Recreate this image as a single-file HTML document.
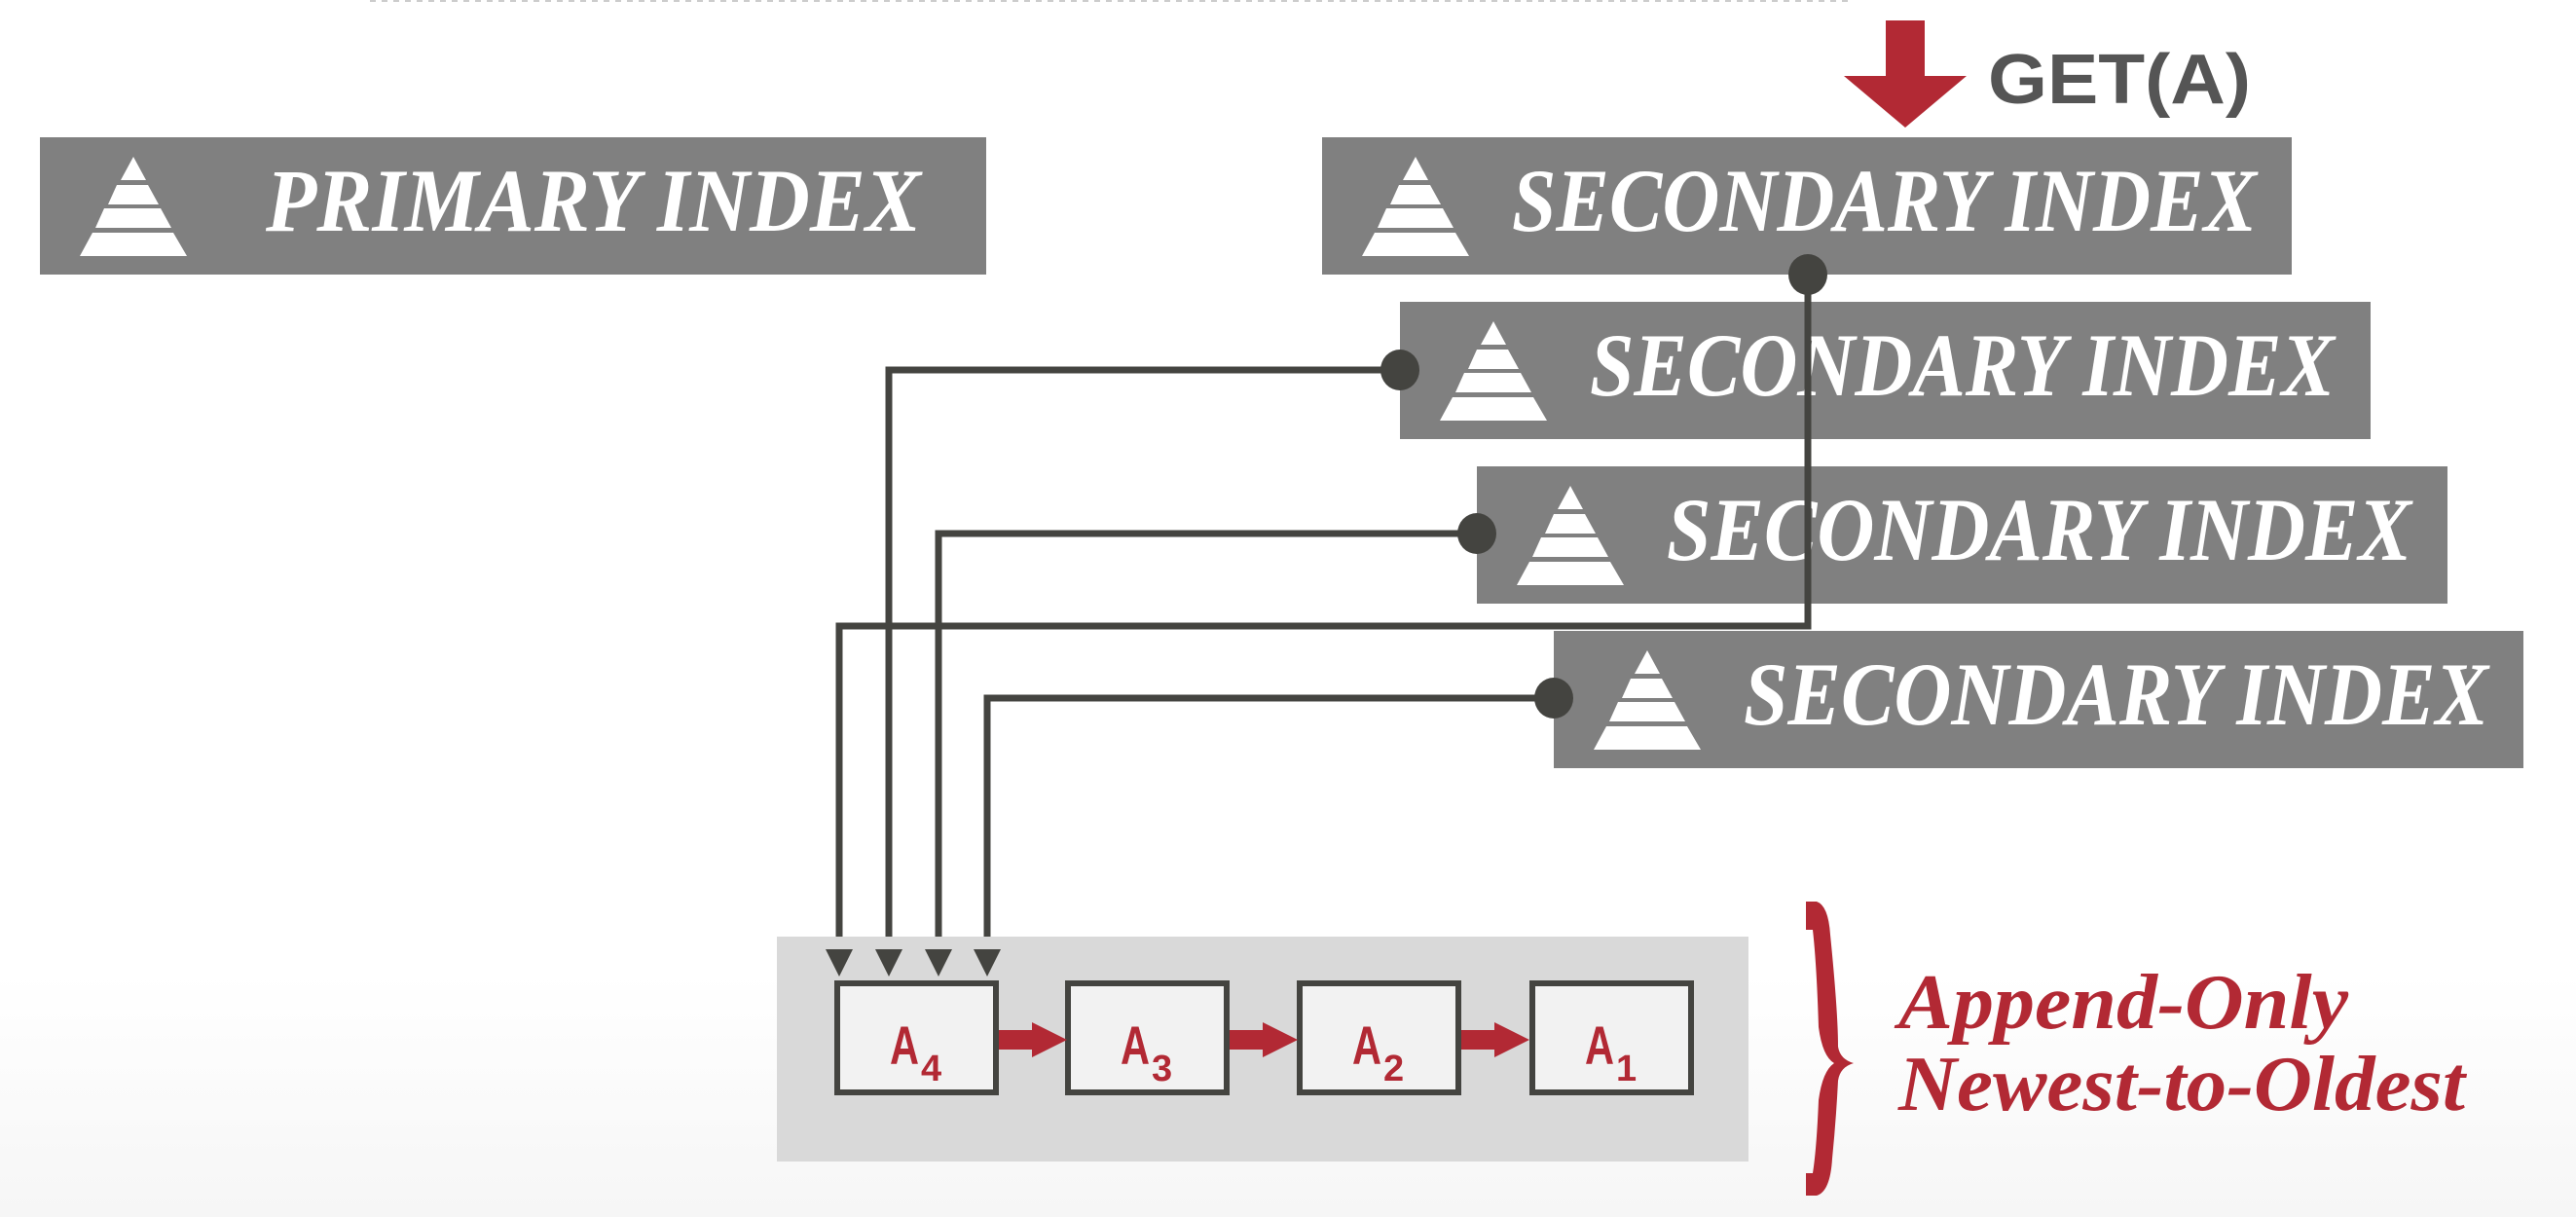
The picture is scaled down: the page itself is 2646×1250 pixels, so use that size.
<!DOCTYPE html>
<html><head><meta charset="utf-8"><style>
html,body{margin:0;padding:0;background:#fff;}
svg{display:block;}
</style></head><body>
<svg width="2646" height="1250" viewBox="0 0 2646 1250" xmlns="http://www.w3.org/2000/svg">
<defs>
<linearGradient id="bg" x1="0" y1="0" x2="0" y2="1">
<stop offset="0" stop-color="#ffffff"/><stop offset="0.8" stop-color="#ffffff"/><stop offset="1" stop-color="#f6f6f6"/>
</linearGradient>
<g id="pyr">
<polygon points="55,0 68,24 42,24" fill="#fff"/>
<polygon points="38,29 70,29 81,49 29,49" fill="#fff"/>
<polygon points="25,53 83,53 94,73 16,73" fill="#fff"/>
<polygon points="13,78 96,78 110,102 0,102" fill="#fff"/>
</g>
</defs>
<rect width="2646" height="1250" fill="url(#bg)"/>
<line x1="380" y1="1" x2="1900" y2="1" stroke="#ccc" stroke-width="2" stroke-dasharray="6,6"/>

<!-- Primary -->
<rect x="41" y="141" width="972" height="141" fill="#808080"/>
<use href="#pyr" x="82" y="161"/>
<text x="273" y="237" font-family="Liberation Serif, serif" font-style="italic" font-weight="bold" font-size="92" fill="#fff" textLength="673" lengthAdjust="spacingAndGlyphs">PRIMARY INDEX</text>

<!-- Secondary boxes -->
<g>
<rect x="1358" y="141" width="996" height="141" fill="#808080"/>
<use href="#pyr" x="1399" y="161"/>
<text x="1553" y="237" font-family="Liberation Serif, serif" font-style="italic" font-weight="bold" font-size="92" fill="#fff" textLength="765" lengthAdjust="spacingAndGlyphs">SECONDARY INDEX</text>
</g>
<g>
<rect x="1438" y="310" width="997" height="141" fill="#808080"/>
<use href="#pyr" x="1479" y="330"/>
<text x="1633" y="406" font-family="Liberation Serif, serif" font-style="italic" font-weight="bold" font-size="92" fill="#fff" textLength="765" lengthAdjust="spacingAndGlyphs">SECONDARY INDEX</text>
</g>
<g>
<rect x="1517" y="479" width="997" height="141" fill="#808080"/>
<use href="#pyr" x="1558" y="499"/>
<text x="1712" y="575" font-family="Liberation Serif, serif" font-style="italic" font-weight="bold" font-size="92" fill="#fff" textLength="765" lengthAdjust="spacingAndGlyphs">SECONDARY INDEX</text>
</g>
<g>
<rect x="1596" y="648" width="996" height="141" fill="#808080"/>
<use href="#pyr" x="1637" y="668"/>
<text x="1791" y="744" font-family="Liberation Serif, serif" font-style="italic" font-weight="bold" font-size="92" fill="#fff" textLength="765" lengthAdjust="spacingAndGlyphs">SECONDARY INDEX</text>
</g>

<!-- GET(A) -->
<rect x="1937" y="21" width="40" height="57" fill="#b22934"/>
<polygon points="1894,78 2020,78 1957,131" fill="#b22934"/>
<text x="2042" y="106" font-family="Liberation Sans, sans-serif" font-weight="bold" font-size="72" fill="#555" textLength="270" lengthAdjust="spacingAndGlyphs">GET(A)</text>

<!-- connectors -->
<g fill="none" stroke="#444440" stroke-width="7">
<polyline points="1857,282 1857,643 862,643 862,980"/>
<polyline points="1438,380 913,380 913,980"/>
<polyline points="1517,548 964,548 964,980"/>
<polyline points="1596,717 1014,717 1014,980"/>
</g>
<g fill="#444440">
<ellipse cx="1857" cy="282" rx="20" ry="21"/>
<ellipse cx="1438" cy="380" rx="20" ry="21"/>
<ellipse cx="1517" cy="548" rx="20" ry="21"/>
<ellipse cx="1596" cy="717" rx="20" ry="21"/>
</g>

<!-- log area -->
<rect x="798" y="962" width="998" height="231" fill="#d9d9d9"/>
<g fill="#444440">
<polygon points="848,975 876,975 862,1003"/>
<polygon points="899,975 927,975 913,1003"/>
<polygon points="950,975 978,975 964,1003"/>
<polygon points="1000,975 1028,975 1014,1003"/>
</g>
<g fill="#f2f2f2" stroke="#444440" stroke-width="6">
<rect x="860" y="1010" width="163" height="112"/>
<rect x="1097" y="1010" width="163" height="112"/>
<rect x="1335" y="1010" width="163" height="112"/>
<rect x="1574" y="1010" width="163" height="112"/>
</g>
<g fill="#b22934">
<rect x="1026" y="1058" width="40" height="20"/><polygon points="1060,1050 1096,1068 1060,1086"/>
<rect x="1263" y="1058" width="40" height="20"/><polygon points="1297,1050 1333,1068 1297,1086"/>
<rect x="1501" y="1058" width="40" height="20"/><polygon points="1535,1050 1571,1068 1535,1086"/>
</g>
<g font-family="Liberation Sans, sans-serif" font-weight="bold" fill="#b22934">
<text x="914" y="1093" font-size="56" textLength="30" lengthAdjust="spacingAndGlyphs">A</text><text x="946" y="1110" font-size="38">4</text>
<text x="1151" y="1093" font-size="56" textLength="30" lengthAdjust="spacingAndGlyphs">A</text><text x="1183" y="1110" font-size="38">3</text>
<text x="1389" y="1093" font-size="56" textLength="30" lengthAdjust="spacingAndGlyphs">A</text><text x="1421" y="1110" font-size="38">2</text>
<text x="1628" y="1093" font-size="56" textLength="30" lengthAdjust="spacingAndGlyphs">A</text><text x="1660" y="1110" font-size="38">1</text>
</g>

<!-- brace -->
<path d="M1855,926 L1866,926 Q1878,930 1880,960 Q1888,1040 1888,1075 Q1890,1088 1904,1092 Q1890,1096 1888,1110 Q1886,1150 1882,1190 Q1880,1224 1866,1228 L1855,1228 L1855,1205 L1862,1205 Q1866,1180 1868,1130 Q1872,1100 1884,1092 Q1872,1085 1868,1055 Q1866,990 1862,955 L1855,955 Z" fill="#b22934"/>
<g font-family="Liberation Serif, serif" font-style="italic" font-weight="bold" font-size="80" fill="#b22934">
<text x="1950" y="1056" textLength="462" lengthAdjust="spacingAndGlyphs">Append-Only</text>
<text x="1950" y="1140" textLength="582" lengthAdjust="spacingAndGlyphs">Newest-to-Oldest</text>
</g>
</svg>
</body></html>
